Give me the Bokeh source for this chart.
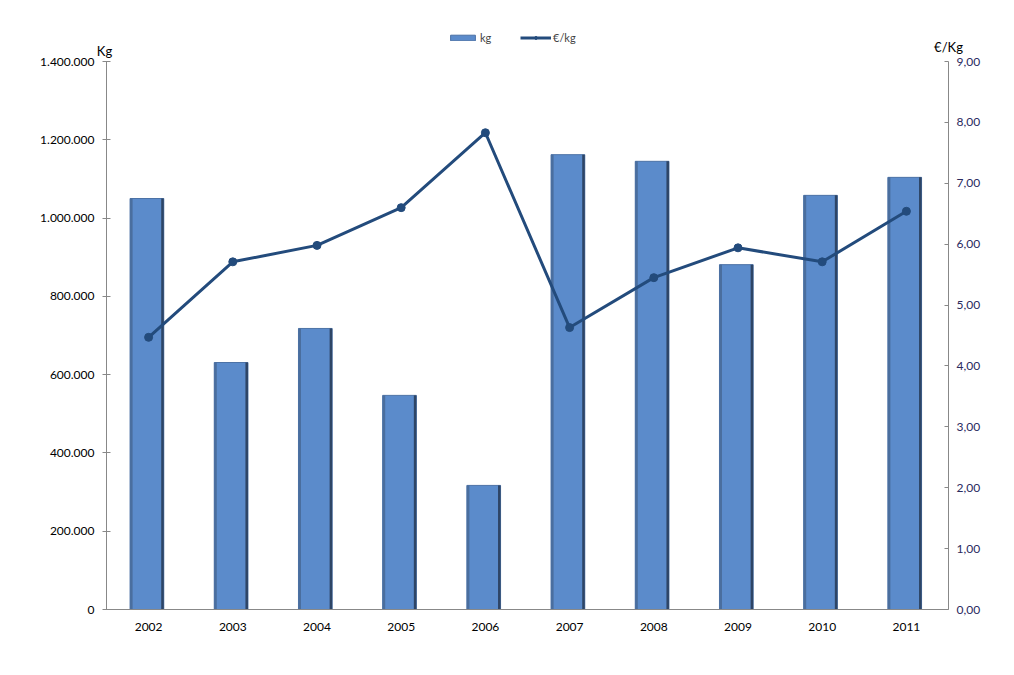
from bokeh.plotting import figure
from bokeh.models import (Range1d, LinearAxis, FixedTicker, Legend, LegendItem,
                          Label, ColumnDataSource)
from bokeh.transform import dodge
from bokeh.embed import file_html
from bokeh.resources import INLINE

years = [2002, 2003, 2004, 2005, 2006, 2007, 2008, 2009, 2010, 2011]
kg = [1050000, 631000, 718000, 547000, 317000, 1162000, 1145000, 881000, 1058000, 1104000]
eur_kg = [4.47, 5.71, 5.98, 6.60, 7.83, 4.63, 5.45, 5.94, 5.71, 6.54]

left_ticks = [0, 200000, 400000, 600000, 800000, 1000000, 1200000, 1400000]
left_labels = ["0", "200.000", "400.000", "600.000", "800.000", "1.000.000", "1.200.000", "1.400.000"]
right_ticks = [0, 1, 2, 3, 4, 5, 6, 7, 8, 9]
right_labels = ["0,00", "1,00", "2,00", "3,00", "4,00", "5,00", "6,00", "7,00", "8,00", "9,00"]

FONT = "Lato"
BAR = "#5B8BCB"
BAR_LINE = "#4C72A6"
LINE = "#234B7C"

# page geometry (pixels) of the plotting box
W, H = 1006, 660
PX_L, PX_R, PX_T, PX_B = 106, 948, 61, 609
X0, X1 = 2001.5, 2011.5
Y1, E1 = 1400000, 9

xs = (PX_R - PX_L) / (X1 - X0)
ys = (PX_B - PX_T) / Y1
es = (PX_B - PX_T) / E1

x_range = Range1d(X0 - PX_L / xs, X1 + (W - PX_R) / xs)
y_range = Range1d(-(H - PX_B) / ys, Y1 + PX_T / ys)
e_range = Range1d(-(H - PX_B) / es, E1 + PX_T / es)

def py(page_y):
    return Y1 + (PX_T - page_y) / ys

def px(page_x):
    return X0 + (page_x - PX_L) / xs

src = ColumnDataSource(dict(year=years, kg=kg))

p = figure(width=W, height=H, output_backend="svg", toolbar_location=None,
           x_range=x_range, y_range=y_range,
           min_border=0, min_border_left=0, min_border_right=0,
           min_border_top=0, min_border_bottom=0)
p.outline_line_color = None
p.xgrid.visible = False
p.ygrid.visible = False
p.extra_y_ranges = {"eur": e_range}

SHIFT = -0.02
bars = p.vbar(x=dodge("year", SHIFT, range=p.x_range), top="kg", width=0.4, source=src,
              fill_color=BAR, line_color=BAR_LINE, line_width=1)
p.vbar(x=dodge("year", SHIFT + 0.185, range=p.x_range), top="kg", width=0.03, source=src,
       fill_color="#2E4566", line_color=None)
p.vbar(x=dodge("year", SHIFT - 0.185, range=p.x_range), top="kg", width=0.03, source=src,
       fill_color="#4A6E9E", line_color=None)

ln = p.line(x=years, y=eur_kg, y_range_name="eur", line_color=LINE, line_width=3)
pts = p.scatter(x=years, y=eur_kg, y_range_name="eur", size=8, fill_color=LINE, line_color=LINE)

xa = p.xaxis[0]
xa.fixed_location = 0
xa.bounds = (X0, X1)
xa.ticker = FixedTicker(ticks=years)
xa.axis_line_color = "#888888"
xa.major_tick_line_color = None
xa.minor_tick_line_color = None
xa.major_label_text_font = FONT
xa.major_label_text_font_size = "12px"
xa.major_label_text_color = "#000000"
xa.major_label_standoff = 7

ya = p.yaxis[0]
ya.fixed_location = X0
ya.bounds = (0, Y1)
ya.ticker = FixedTicker(ticks=left_ticks)
ya.major_label_overrides = {t: l for t, l in zip(left_ticks, left_labels)}
ya.axis_line_color = "#888888"
ya.major_tick_line_color = "#888888"
ya.major_tick_in = 4
ya.major_tick_out = 4
ya.minor_tick_line_color = None
ya.major_label_text_font = FONT
ya.major_label_text_font_size = "12px"
ya.major_label_text_color = "#000000"
ya.major_label_standoff = 8

ra = LinearAxis(y_range_name="eur", ticker=FixedTicker(ticks=right_ticks))
ra.fixed_location = X1
ra.bounds = (0, E1)
ra.major_label_overrides = {t: l for t, l in zip(right_ticks, right_labels)}
ra.axis_line_color = "#888888"
ra.major_tick_line_color = "#888888"
ra.major_tick_in = 4
ra.major_tick_out = 0
ra.minor_tick_line_color = None
ra.major_label_text_font = FONT
ra.major_label_text_font_size = "12px"
ra.major_label_text_color = "#2A2A5E"
ra.major_label_standoff = 8
p.add_layout(ra, "right")

p.add_layout(Label(x=px(104), y=py(50), text="Kg", text_font=FONT, text_font_size="13px",
                   text_align="center", text_baseline="middle", text_color="#000000"))
p.add_layout(Label(x=px(948), y=py(46), text="€/Kg", text_font=FONT, text_font_size="13px",
                   text_align="center", text_baseline="middle", text_color="#000000"))

legend = Legend(items=[LegendItem(label="kg", renderers=[bars]),
                       LegendItem(label="€/kg", renderers=[ln, pts])],
                orientation="horizontal", location=(447, H - 44),
                label_text_font=FONT, label_text_font_size="11px",
                glyph_width=31, glyph_height=7, spacing=20, padding=0, margin=0,
                background_fill_alpha=0, border_line_color=None, label_standoff=2)
p.add_layout(legend, "center")

open("out.html", "w").write(file_html(p, INLINE))
